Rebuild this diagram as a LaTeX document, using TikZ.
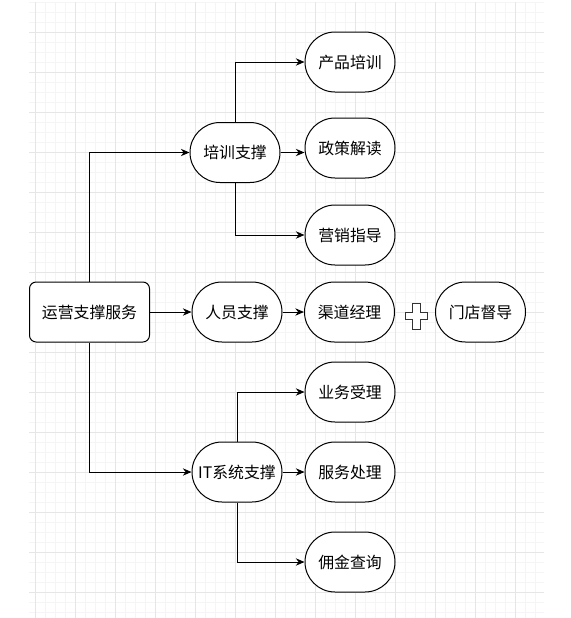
\documentclass[tikz,border=0pt]{standalone}
\usepackage{fontspec}
\newfontfamily\cjk{Noto Sans CJK SC}
\usetikzlibrary{arrows.meta}
\definecolor{gridminor}{HTML}{F5F5F5}
\definecolor{gridmajor}{HTML}{E6E6E6}
\definecolor{crossgray}{HTML}{333333}

\begin{document}
\begin{tikzpicture}[x=0.75pt, y=-0.75pt,
    pill/.style={draw, line width=0.75pt, rounded corners=22.5pt, fill=white, minimum width=67.5pt, minimum height=45pt, inner sep=0pt, align=center, font=\cjk\fontsize{11.9}{14}\selectfont},
    rootbox/.style={pill, rounded corners=5pt, minimum width=90pt},
    arrow/.style={-{Stealth[length=6.5pt,width=5.5pt]}, line width=0.75pt},
]
\useasboundingbox (0,0) rectangle (571,618);
% background grid
\foreach \gx in {35,45,...,535} \draw[gridminor, line width=0.75pt] (\gx,2) -- (\gx,618);
\foreach \gy in {2,12,...,612} \draw[gridminor, line width=0.75pt] (29,\gy) -- (544,\gy);
\foreach \gx in {35,75,...,515} \draw[gridmajor, line width=0.75pt] (\gx,2) -- (\gx,618);
\foreach \gy in {32,72,...,592} \draw[gridmajor, line width=0.75pt] (29,\gy) -- (544,\gy);

\node[rootbox] (ops) at (89.5,312) {运营支撑服务};
\node[pill] (train) at (235,152.5) {培训支撑};
\node[pill] (product) at (350,62) {产品培训};
\node[pill] (policy) at (350,148) {政策解读};
\node[pill] (market) at (350,235) {营销指导};
\node[pill] (staff) at (237,312) {人员支撑};
\node[pill] (channel) at (349.5,312) {渠道经理};
\node[pill] (store) at (480.5,312) {门店督导};
\node[pill] (itsys) at (237,472) {IT系统支撑};
\node[pill] (accept) at (350,392) {业务受理};
\node[pill] (service) at (350,472) {服务处理};
\node[pill] (commission) at (350,562) {佣金查询};

\draw[arrow] (ops.north) |- (train.west);
\draw[arrow] (ops) -- (staff);
\draw[arrow] (ops.south) |- (itsys.west);
\draw[arrow] (train.north) |- (product.west);
\draw[arrow] (train.east) -- (train.east -| policy.west);
\draw[arrow] (train.south) |- (market.west);
\draw[arrow] (staff) -- (channel);
\draw[arrow] (itsys.north) |- (accept.west);
\draw[arrow] (itsys) -- (service);
\draw[arrow] (itsys.south) |- (commission.west);

% plus sign between the two staff boxes
\draw[crossgray, fill=white, line width=0.75pt] (416,316) ++(-4,-13) -- ++(8,0) -- ++(0,9.5) -- ++(7,0) -- ++(0,7) -- ++(-7,0) -- ++(0,9.5) -- ++(-8,0) -- ++(0,-9.5) -- ++(-7,0) -- ++(0,-7) -- ++(7,0) -- cycle;
\end{tikzpicture}
\end{document}
